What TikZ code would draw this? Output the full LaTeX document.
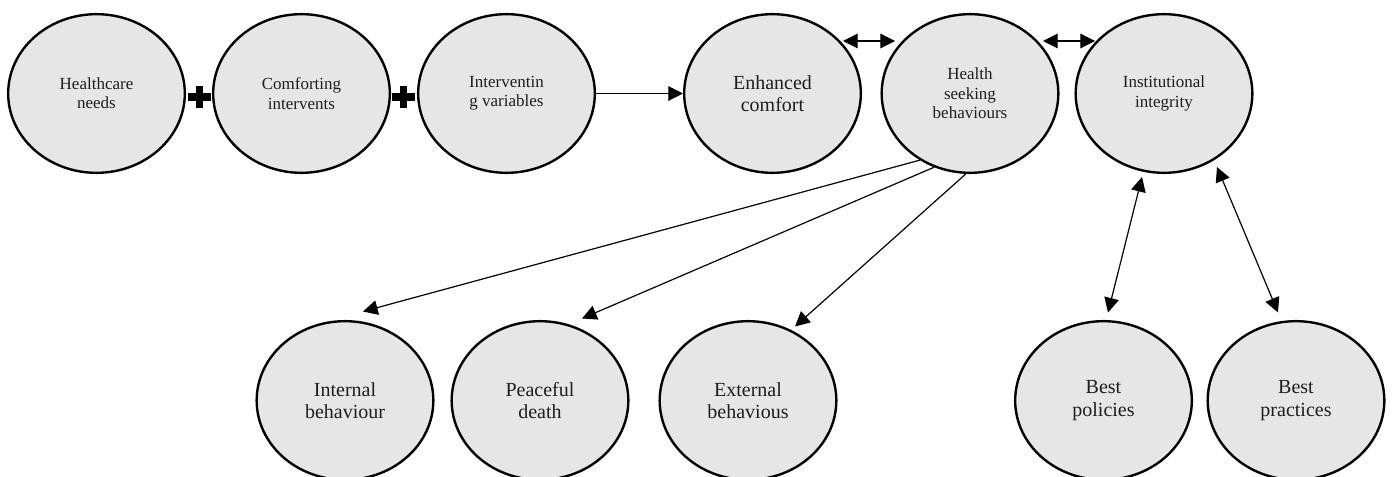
\documentclass[tikz,border=0pt]{standalone}
\usepackage{fontspec}
\setmainfont{Liberation Serif}
\usetikzlibrary{shapes.geometric,arrows.meta}
\definecolor{bubble}{RGB}{230,230,230}
\definecolor{ink}{RGB}{30,30,30}
\begin{document}
\begin{tikzpicture}[x=0.75pt,y=-0.75pt,
  bub/.style={ellipse,draw=black,fill=bubble,line width=1.8pt,minimum width=132.5pt,minimum height=119pt,inner sep=0pt,align=center,text=ink},
  small/.style={font=\fontsize{12.75pt}{14.5pt}\selectfont},
  big/.style={font=\fontsize{15pt}{17pt}\selectfont},
  tip/.tip={Triangle[length=11pt,width=11pt]},
  arr/.style={line width=0.9pt,-tip},
  darr/.style={line width=0.9pt,tip-tip},
  plusarm/.style={fill=black}]
\useasboundingbox (0,0) rectangle (1394,477);
% nodes
\node[bub,small] (hn) at (96.5,93.5) {Healthcare\\needs};
\node[bub,small] (ci) at (301.5,93.5) {Comforting\\intervents};
\node[bub,small] (iv) at (506.5,93.5) {Interventin\\g variables};
\node[bub,big] (ec) at (772.5,93.5) {Enhanced\\comfort};
\node[bub,small] (hs) at (970,93.5) {Health\\seeking\\behaviours};
\node[bub,small] (ii) at (1164,93.5) {Institutional\\integrity};
\node[bub,big] (ib) at (345,400.5) {Internal\\behaviour};
\node[bub,big] (pd) at (540,400.5) {Peaceful\\death};
\node[bub,big] (eb) at (748,400.5) {External\\behavious};
\node[bub,big] (bpo) at (1103.5,400.5) {Best\\policies};
\node[bub,big] (bpr) at (1296,400.5) {Best\\practices};
% plus signs
\coordinate (p1) at (199.5,97);
\coordinate (p2) at (403.5,97);
\foreach \p in {p1,p2}{
  \fill[plusarm] ([shift={(-11.5,-3.6)}]\p) rectangle ([shift={(11.5,3.6)}]\p);
  \fill[plusarm] ([shift={(-3.6,-11)}]\p) rectangle ([shift={(3.6,11)}]\p);
}
% connectors
\draw[arr] (iv.east) -- (ec.west);
\draw[darr] ([shift={(70.5,-52.5)}]ec.center) -- ([shift={(-75,-52.5)}]hs.center);
\draw[darr] ([shift={(73,-52.5)}]hs.center) -- ([shift={(-69,-52.5)}]ii.center);
\draw[arr] (hs.233) -- ([shift={(18,-89)}]ib.center);
\draw[arr] (hs.244) -- ([shift={(42,-82)}]pd.center);
\draw[arr] (hs.267) -- ([shift={(47,-74)}]eb.center);
\draw[darr] ([shift={(-22,83.5)}]ii.center) -- ([shift={(4.5,-88)}]bpo.center);
\draw[darr] ([shift={(53,73.5)}]ii.center) -- ([shift={(-18,-88)}]bpr.center);
\end{tikzpicture}
\end{document}
